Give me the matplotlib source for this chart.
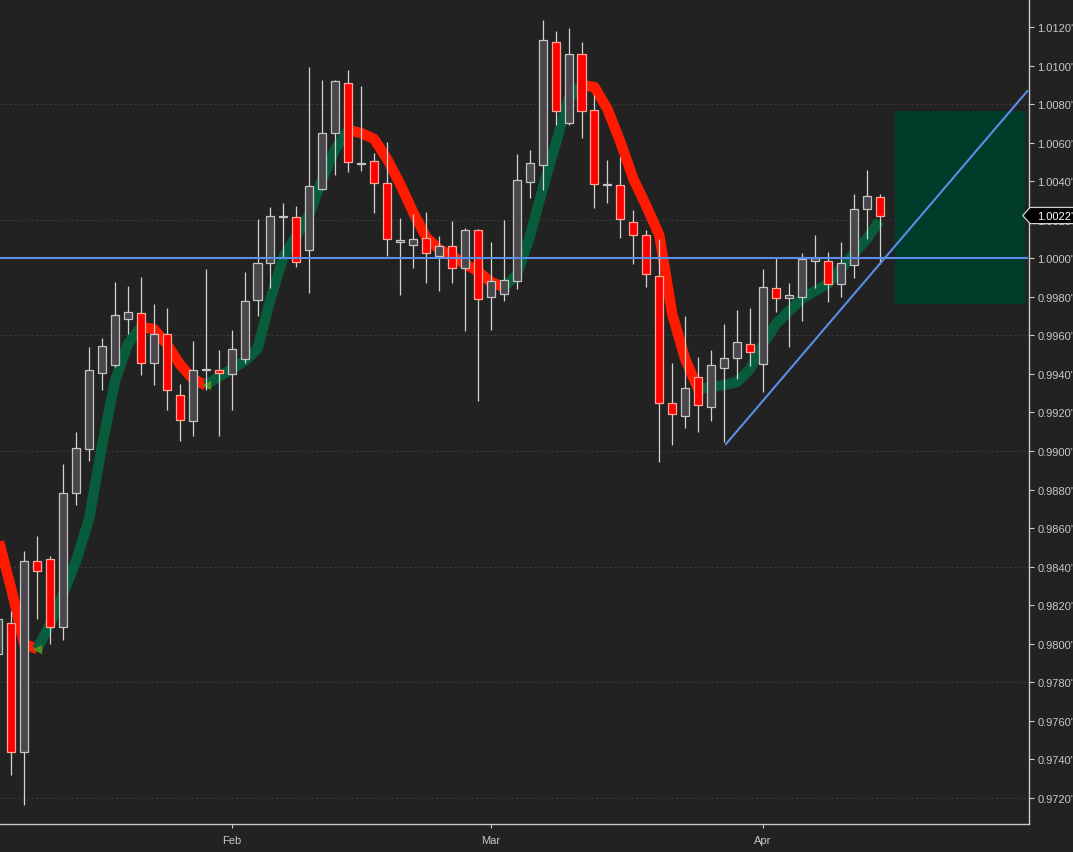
import numpy as np
import matplotlib
matplotlib.use("Agg")
import matplotlib.pyplot as plt
from matplotlib.patches import Rectangle, Polygon
from matplotlib.transforms import blended_transform_factory

plt.rcParams['font.family'] = ['Liberation Sans', 'DejaVu Sans']

# daily candles, first one is only half visible at the left edge
opens = [0.97946, 0.98107, 0.97436, 0.98427, 0.98438, 0.98085, 0.98780, 0.99009, 0.99403, 0.99445,
         0.99683, 0.99715, 0.99455, 0.99606, 0.99289, 0.99154, 0.99418, 0.99419, 0.99398, 0.99476,
         0.99782, 0.99974, 1.00214, 1.00213, 1.00042, 1.00361, 1.00649, 1.00908, 1.00489, 1.00503,
         1.00389, 1.00083, 1.00071, 1.00104, 1.00010, 1.00065, 0.99948, 1.00145, 0.99798, 0.99813,
         0.99881, 1.00394, 1.00483, 1.01121, 1.00701, 1.01059, 1.00768, 1.00380, 1.00379, 1.00187,
         1.00119, 0.99907, 0.99247, 0.99180, 0.99385, 0.99227, 0.99432, 0.99481, 0.99554, 0.99450,
         0.99844, 0.99792, 0.99799, 0.99988, 0.99988, 0.99868, 0.99964, 1.00254, 1.00317]
highs = [0.98220, 0.98168, 0.98481, 0.98559, 0.98455, 0.98931, 0.99097, 0.99538, 0.99585, 0.99875,
         0.99855, 0.99903, 0.99763, 0.99740, 0.99346, 0.99571, 0.99944, 0.99522, 0.99628, 0.99929,
         1.00204, 1.00265, 1.00287, 1.00271, 1.00991, 1.00925, 1.00925, 1.00977, 1.00893, 1.00545,
         1.00602, 1.00209, 1.00230, 1.00240, 1.00114, 1.00192, 1.00156, 1.00152, 1.00083, 1.00199,
         1.00541, 1.00562, 1.01235, 1.01178, 1.01195, 1.01123, 1.00846, 1.00509, 1.00524, 1.00251,
         1.00145, 1.00099, 0.99455, 0.99699, 0.99486, 0.99524, 0.99659, 0.99732, 0.99742, 0.99944,
         1.00000, 0.99872, 1.00028, 1.00121, 1.00031, 1.00083, 1.00334, 1.00458, 1.00334]
lows = [0.97900, 0.97320, 0.97161, 0.98129, 0.98000, 0.98020, 0.98721, 0.98950, 0.99318, 0.99436,
        0.99607, 0.99396, 0.99344, 0.99214, 0.99053, 0.99076, 0.99318, 0.99076, 0.99214, 0.99455,
        0.99702, 0.99847, 1.00007, 0.99956, 0.99821, 1.00354, 1.00434, 1.00446, 1.00452, 1.00237,
        1.00013, 0.99811, 0.99948, 0.99873, 0.99829, 0.99873, 0.99621, 0.99261, 0.99629, 0.99777,
        0.99839, 1.00315, 1.00356, 1.00693, 1.00693, 1.00626, 1.00263, 1.00289, 1.00107, 0.99972,
        0.99849, 0.98941, 0.99033, 0.99117, 0.99100, 0.99157, 0.99048, 0.99374, 0.99441, 0.99305,
        0.99720, 0.99538, 0.99673, 0.99847, 0.99775, 0.99801, 0.99896, 1.00099, 0.99970]
closes = [0.98128, 0.97436, 0.98427, 0.98375, 0.98085, 0.98780, 0.99014, 0.99420, 0.99545, 0.99706,
          0.99720, 0.99455, 0.99606, 0.99315, 0.99159, 0.99419, 0.99422, 0.99406, 0.99531, 0.99780,
          0.99974, 1.00218, 1.00218, 0.99979, 1.00374, 1.00649, 1.00919, 1.00498, 1.00493, 1.00391,
          1.00100, 1.00093, 1.00100, 1.00026, 1.00065, 0.99948, 1.00145, 0.99790, 0.99884, 0.99886,
          1.00405, 1.00493, 1.01131, 1.00766, 1.01059, 1.00766, 1.00384, 1.00384, 1.00202, 1.00119,
          0.99917, 0.99247, 0.99190, 0.99325, 0.99240, 0.99445, 0.99481, 0.99564, 0.99512, 0.99849,
          0.99792, 0.99810, 0.99996, 1.00000, 0.99868, 0.99974, 1.00254, 1.00322, 1.00222]

# trend band (smoothed average) under the candles
band = [0.98543, 0.98284, 0.97998, 0.97972, 0.98102, 0.98258, 0.98429, 0.98647, 0.99026, 0.99363,
        0.99555, 0.99643, 0.99633, 0.99555, 0.99451, 0.99374, 0.99342, 0.99384, 0.99425, 0.99467,
        0.99529, 0.99789, 1.00007, 1.00116, 1.00230, 1.00412, 1.00567, 1.00665, 1.00650, 1.00619,
        1.00515, 1.00386, 1.00240, 1.00111, 1.00048, 1.00012, 0.99970, 0.99934, 0.99877, 0.99851,
        0.99913, 1.00111, 1.00360, 1.00593, 1.00827, 1.00899, 1.00889, 1.00775, 1.00604, 1.00412,
        1.00271, 1.00121, 0.99711, 0.99477, 0.99322, 0.99332, 0.99342, 0.99358, 0.99425, 0.99555,
        0.99659, 0.99726, 0.99789, 0.99830, 0.99867, 0.99944, 1.00022, 1.00100, 1.00194]

month_labels = ['Feb', 'Mar', 'Apr']
month_pos = [17, 37, 58]

level = 1.0000
trend_x = [55.15, 78.4]
trend_y = [0.99036, 1.00868]
zone_x = [68.2, 78.2]
zone_y = [0.99763, 1.00765]

BG = '#222222'
AXIS = '#c8c8c8'


def draw_band(ax, x, values):
    """Draw the band in green where it rises and red where it falls."""
    values = np.asarray(values)
    rising = np.diff(values) > 0
    start = 0
    turns = []
    for k in range(1, len(rising) + 1):
        if k == len(rising) or rising[k] != rising[start]:
            color = '#075c3b' if rising[start] else '#ff1a00'
            ax.plot(x[start:k + 1], values[start:k + 1], color=color, lw=7.5,
                    solid_joinstyle='round', solid_capstyle='butt', zorder=2)
            if k < len(rising):
                turns.append(k)
            start = k
    ax.scatter(x[turns], values[turns], marker='<', s=45, color='#4f8f23',
               linewidths=0, zorder=2.5)


def draw_candles(ax, x, o, h, l, c):
    o, h, l, c = map(np.asarray, (o, h, l, c))
    up = c >= o
    ax.vlines(x, l, h, color='#d4d4d4', lw=0.9, zorder=3)
    bottom = np.minimum(o, c)
    height = np.maximum(np.abs(c - o), 0.00008)
    ax.bar(x[up], height[up], bottom=bottom[up], width=0.62, color='#49474b',
           edgecolor='#c4c4c4', linewidth=0.9, zorder=4)
    ax.bar(x[~up], height[~up], bottom=bottom[~up], width=0.62, color='#ff0000',
           edgecolor='#ffa595', linewidth=0.9, zorder=4)


fig = plt.figure(figsize=(10.73, 8.53), dpi=100)
fig.patch.set_facecolor(BG)
ax = fig.add_axes([0, 28 / 853, 1029 / 1073, 825 / 853])
ax.set_facecolor(BG)

x = np.arange(-1, len(closes) - 1)

price_ticks = np.round(np.arange(0.9720, 1.0121, 0.002), 4)
for g in price_ticks[::3]:
    ax.axhline(g, color='#3a3a3a', lw=0.8, dashes=(2, 2), zorder=0.5)

ax.add_patch(Rectangle((zone_x[0], zone_y[0]), zone_x[1] - zone_x[0], zone_y[1] - zone_y[0],
                       facecolor='#013b2a', edgecolor='none', zorder=1))

draw_band(ax, x, band)
draw_candles(ax, x, opens, highs, lows, closes)

ax.plot([-1, 78.4], [level, level], color='#5a8ee8', lw=1.5, zorder=5)
ax.plot(trend_x, trend_y, color='#5a8ee8', lw=1.5, zorder=5)

ax.set_xlim(-0.87, 78.53)
ax.set_ylim(0.970639, 1.013458)

ax.yaxis.tick_right()
ax.set_yticks(price_ticks)
ax.set_yticklabels([f"{v:.4f}'" for v in price_ticks])
ax.set_xticks(month_pos)
ax.set_xticklabels(month_labels)
ax.tick_params(axis='y', colors=AXIS, labelsize=8, length=3.6, width=0.8, pad=2.5)
ax.tick_params(axis='x', colors=AXIS, labelsize=8, length=3, width=0.8, pad=5)
for side in ['left', 'top']:
    ax.spines[side].set_visible(False)
for side in ['right', 'bottom']:
    ax.spines[side].set_color(AXIS)
    ax.spines[side].set_linewidth(1)

# last price marker on the axis
last = closes[-1]
hh = 0.00042
trans = blended_transform_factory(ax.transAxes, ax.transData)
ax.add_patch(Polygon([(0.9939, last), (1.001, last + hh), (1.05, last + hh),
                      (1.05, last - hh), (1.001, last - hh)], closed=True,
                     facecolor='black', edgecolor='#d0d0d0', lw=0.9,
                     transform=trans, clip_on=False, zorder=10))
ax.text(1.0075, last, f"{last:.4f}'", color='white', fontsize=8, ha='left',
        va='center', transform=trans, clip_on=False, zorder=11)

fig.savefig('out.png', dpi=100, facecolor=BG)
